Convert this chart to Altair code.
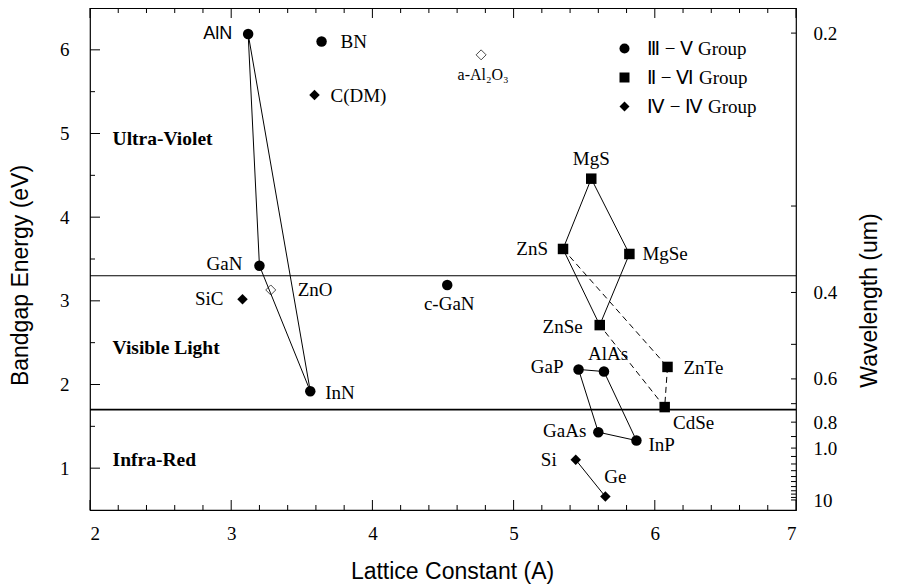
import altair as alt
import pandas as pd

# ---------------- data ----------------
iii_v_names = ["AlN", "BN", "GaN", "InN", "c-GaN", "GaP", "AlAs", "GaAs", "InP"]
iii_v_lattice = [3.12, 3.64, 3.20, 3.56, 4.53, 5.46, 5.64, 5.60, 5.87]
iii_v_gap = [6.19, 6.10, 3.42, 1.92, 3.19, 2.18, 2.155, 1.43, 1.33]

ii_vi_names = ["MgS", "MgSe", "ZnS", "ZnSe", "ZnTe", "CdSe"]
ii_vi_lattice = [5.55, 5.82, 5.35, 5.61, 6.09, 6.07]
ii_vi_gap = [4.46, 3.56, 3.62, 2.71, 2.21, 1.73]

iv_iv_names = ["C(DM)", "SiC", "Si", "Ge"]
iv_iv_lattice = [3.59, 3.08, 5.44, 5.65]
iv_iv_gap = [5.46, 3.02, 1.10, 0.66]

open_names = ["ZnO", "a-Al₂O₃"]
open_lattice = [3.28, 4.77]
open_gap = [3.13, 5.94]

group_labels = ["Ⅲ − Ⅴ   Group", "Ⅱ − Ⅵ   Group", "Ⅳ − Ⅳ   Group"]

solid_links = [("AlN", "GaN"), ("GaN", "InN"), ("InN", "AlN"),
               ("MgS", "ZnS"), ("ZnS", "ZnSe"), ("ZnSe", "MgSe"), ("MgSe", "MgS"),
               ("GaP", "AlAs"), ("GaP", "GaAs"), ("AlAs", "InP"), ("GaAs", "InP"),
               ("Si", "Ge")]
dashed_links = [("ZnS", "ZnTe"), ("ZnTe", "CdSe"), ("CdSe", "ZnSe")]

region_names = ["Ultra-Violet", "Visible Light", "Infra-Red"]
region_lattice = [2.16, 2.16, 2.16]
region_gap = [4.93, 2.44, 1.10]

uv_boundary_gap = [3.3]
ir_boundary_gap = [1.7]

lattice_major = [2, 3, 4, 5, 6, 7]
lattice_minor = [2.2, 2.4, 2.6, 2.8, 3.2, 3.4, 3.6, 3.8, 4.2, 4.4, 4.6, 4.8,
                 5.2, 5.4, 5.6, 5.8, 6.2, 6.4, 6.6, 6.8]
energy_major = [1, 2, 3, 4, 5, 6]
energy_minor = [1.5, 2.5, 3.5, 4.5, 5.5]
wavelength_labels = ["0.2", "0.4", "0.6", "0.8", "1.0", "10"]
wavelength_label_gap = [6.2, 3.1, 2.067, 1.55, 1.24, 0.61]
wavelength_tick_gap = [6.2, 4.133, 3.1, 2.48, 2.067, 1.771, 1.55, 1.378, 1.24,
                       1.14, 1.05, 0.97, 0.90, 0.84, 0.78, 0.73, 0.69, 0.65, 0.62]

# ---------------- style ----------------
W, H = 706, 502
SERIF = "Liberation Serif"
SANS = "Liberation Sans"
LBL = 19
TTL = 23

label_style = {  # name: (align, dx, dy)
    "AlN": ("right", -16, 0), "BN": ("left", 19, 1), "C(DM)": ("left", 16, 1),
    "GaN": ("right", -17, -2), "SiC": ("right", -19, 0), "ZnO": ("left", 27, 0),
    "InN": ("left", 15, 2), "c-GaN": ("center", 2, 19), "MgS": ("center", 0, -20),
    "ZnS": ("right", -15, 0), "MgSe": ("left", 13, 0), "ZnSe": ("right", -17, 2),
    "AlAs": ("center", 4, -18), "GaP": ("right", -15, -2), "ZnTe": ("left", 16, 1),
    "CdSe": ("center", 29, 16), "GaAs": ("right", -12, -1), "InP": ("left", 12, 4),
    "Si": ("right", -19, 0), "Ge": ("center", 10, -20), "a-Al₂O₃": ("center", 2, 20),
}

# ---------------- tables ----------------
pts = pd.DataFrame({
    "name": iii_v_names + ii_vi_names + iv_iv_names,
    "lattice": iii_v_lattice + ii_vi_lattice + iv_iv_lattice,
    "gap": iii_v_gap + ii_vi_gap + iv_iv_gap,
    "group": [group_labels[0]] * len(iii_v_names) + [group_labels[1]] * len(ii_vi_names)
             + [group_labels[2]] * len(iv_iv_names),
})
opn = pd.DataFrame({"name": open_names, "lattice": open_lattice, "gap": open_gap})
allpts = pd.concat([pts[["name", "lattice", "gap"]], opn], ignore_index=True)
lookup = {r.name: (r.lattice, r.gap) for r in allpts.itertuples()}


def links_df(pairs):
    return pd.DataFrame({
        "x": [lookup[a][0] for a, b in pairs], "y": [lookup[a][1] for a, b in pairs],
        "x2": [lookup[b][0] for a, b in pairs], "y2": [lookup[b][1] for a, b in pairs],
    })


xs = alt.Scale(domain=[2, 7], nice=False, zero=False)
ys = alt.Scale(domain=[0.5, 6.5], nice=False, zero=False)

label_expr = " : ".join(
    f"abs(datum.value - {v}) < 0.001 ? '{t}'" for v, t in zip(wavelength_label_gap, wavelength_labels)
) + " : ''"

# ---------------- layers ----------------
points = alt.Chart(pts).mark_point(filled=True, color="black", size=110, opacity=1).encode(
    x=alt.X("lattice:Q", scale=xs, axis=alt.Axis(
        title="Lattice Constant (A)", values=lattice_major, format="d", ticks=False, tickSize=0,
        domain=False, grid=False, labelFont=SERIF, labelFontSize=LBL, labelPadding=14,
        labelColor="black", titleFont=SANS, titleFontSize=TTL, titleFontWeight="normal",
        titleColor="black", titlePadding=17, titleX=362)),
    y=alt.Y("gap:Q", scale=ys, axis=alt.Axis(
        title="Bandgap Energy (eV)", values=energy_major, format="d", ticks=False, tickSize=0,
        domain=False, grid=False, labelFont=SERIF, labelFontSize=LBL, labelPadding=21,
        labelColor="black", titleFont=SANS, titleFontSize=TTL, titleFontWeight="normal",
        titleColor="black", titlePadding=27, titleY=267)),
    shape=alt.Shape("group:N", scale=alt.Scale(domain=group_labels, range=["circle", "square", "diamond"]),
                    legend=alt.Legend(title=None, orient="none", legendX=525, legendY=31,
                                      labelFont=SERIF, labelFontSize=LBL, labelColor="black",
                                      symbolSize=100, symbolFillColor="black", symbolStrokeColor="black",
                                      symbolStrokeWidth=0, rowPadding=9, labelOffset=13, padding=0)),
)

open_pts = alt.Chart(opn).mark_point(shape="diamond", filled=False, color="black", size=100,
                                     strokeWidth=1).encode(
    x=alt.X("lattice:Q", scale=xs, axis=None),
    y=alt.Y("gap:Q", scale=ys, axis=None),
)

uv_line = alt.Chart(pd.DataFrame({"gap": uv_boundary_gap})).mark_rule(color="black", strokeWidth=1.1).encode(
    y=alt.Y("gap:Q", scale=ys, axis=alt.Axis(
        orient="right", title="Wavelength (um)", values=wavelength_label_gap, labelExpr=label_expr,
        ticks=False, tickSize=0, domain=False, grid=False, labelFont=SERIF, labelFontSize=LBL,
        labelPadding=17, labelColor="black", titleFont=SANS, titleFontSize=TTL,
        titleFontWeight="normal", titleColor="black", titlePadding=45, titleAngle=270,
        titleY=292, labelOverlap=False)),
)
ir_line = alt.Chart(pd.DataFrame({"gap": ir_boundary_gap})).mark_rule(color="black", strokeWidth=1.6).encode(
    y=alt.Y("gap:Q", scale=ys, axis=None))

solid = alt.Chart(links_df(solid_links)).mark_rule(color="black", strokeWidth=1).encode(
    x=alt.X("x:Q", scale=xs, axis=None), y=alt.Y("y:Q", scale=ys, axis=None),
    x2="x2:Q", y2="y2:Q")
dashed = alt.Chart(links_df(dashed_links)).mark_rule(color="black", strokeWidth=1,
                                                     strokeDash=[6, 4]).encode(
    x=alt.X("x:Q", scale=xs, axis=None), y=alt.Y("y:Q", scale=ys, axis=None),
    x2="x2:Q", y2="y2:Q")

regions = alt.Chart(pd.DataFrame({"name": region_names, "lattice": region_lattice, "gap": region_gap})
                    ).mark_text(font=SERIF, fontSize=19.5, fontWeight="bold", align="left",
                                baseline="middle", color="black").encode(
    x=alt.X("lattice:Q", scale=xs, axis=None), y=alt.Y("gap:Q", scale=ys, axis=None), text="name:N")

texts = []
for nm, (al, dx, dy) in label_style.items():
    lx, ly = lookup[nm]
    fs = LBL
    fnt = SERIF
    if nm == "a-Al₂O₃":
        fs = 16
    if nm == "AlN":
        fs, fnt = 18, SANS
    texts.append(alt.Chart(pd.DataFrame({"name": [nm], "lattice": [lx], "gap": [ly]})).mark_text(
        font=fnt, fontSize=fs, align=al, baseline="middle", dx=dx, dy=dy, color="black").encode(
        x=alt.X("lattice:Q", scale=xs, axis=None), y=alt.Y("gap:Q", scale=ys, axis=None), text="name:N"))


def xticks(vals, length, top):
    d = pd.DataFrame({"v": vals})
    if top:
        yy, yy2 = alt.value(0), alt.value(length)
    else:
        yy, yy2 = alt.value(H), alt.value(H - length)
    return alt.Chart(d).mark_rule(color="black", strokeWidth=1).encode(
        x=alt.X("v:Q", scale=xs, axis=None), y=yy, y2=yy2)


def yticks(vals, length, right):
    d = pd.DataFrame({"v": vals})
    if right:
        xx, xx2 = alt.value(W), alt.value(W - length)
    else:
        xx, xx2 = alt.value(0), alt.value(length)
    return alt.Chart(d).mark_rule(color="black", strokeWidth=1).encode(
        y=alt.Y("v:Q", scale=ys, axis=None), x=xx, x2=xx2)


ticks = [xticks(lattice_major, 10, False), xticks(lattice_minor, 5, False),
         xticks(lattice_major, 10, True), xticks(lattice_minor, 5, True),
         yticks(energy_major, 10, False), yticks(energy_minor, 5, False),
         yticks(wavelength_tick_gap, 5, True)]

chart = alt.layer(points, uv_line, ir_line, solid, dashed, open_pts, regions, *texts, *ticks).resolve_axis(
    x="independent", y="independent"
).properties(
    width=W, height=H, autosize="none",
    padding={"left": 82, "top": 0, "right": 92, "bottom": 76},
).configure_view(stroke="black", strokeWidth=1.2).configure_axis(
    labelFont=SERIF, titleFont=SANS
).configure_legend(labelFont=SERIF)

chart.save("out.html", embed_options={"renderer": "svg", "actions": False})
